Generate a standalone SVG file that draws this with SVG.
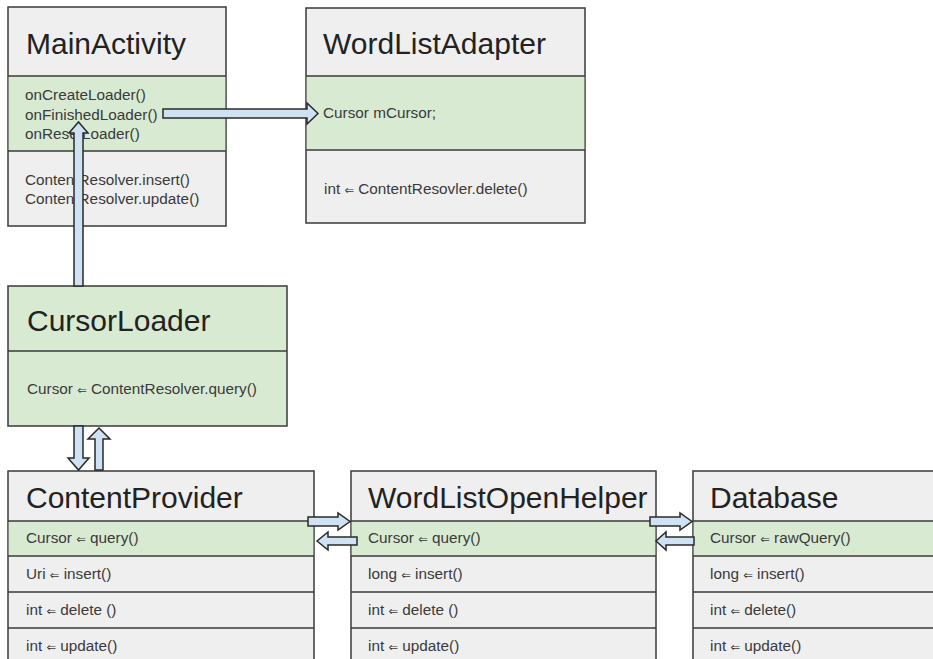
<svg xmlns="http://www.w3.org/2000/svg" width="933" height="659" viewBox="0 0 933 659">
<style>
.box{stroke:#3a3a3a;stroke-width:1.5}
.gray{fill:#efefef}
.green{fill:#d9ead3}
.sep{stroke:#3a3a3a;stroke-width:1.5;fill:none}
.title{font-family:"Liberation Sans",Arial,sans-serif;font-size:30px;fill:#222}
.txt{font-family:"Liberation Sans",Arial,"DejaVu Sans",sans-serif;font-size:15.3px;fill:#3a3a3a}
.ar{font-family:"DejaVu Sans",sans-serif;font-size:11.5px}
.arrow{fill:#cfe2f3;stroke:#2a2a2a;stroke-width:1.5;stroke-linejoin:miter}
</style>
<rect width="933" height="659" fill="#ffffff"/>

<g id="MainActivity">
  <rect class="box gray" x="8" y="7" width="218" height="219"/>
  <rect class="green" x="8.75" y="76" width="216.5" height="75"/>
  <line class="sep" x1="8" y1="76" x2="226" y2="76"/>
  <line class="sep" x1="8" y1="151" x2="226" y2="151"/>
  <text class="title" x="26" y="54">MainActivity</text>
  <text class="txt" x="25" y="100">onCreateLoader()</text>
  <text class="txt" x="25" y="119.5">onFinishedLoader()</text>
  <text class="txt" x="25" y="139">onResetLoader()</text>
  <text class="txt" x="25" y="185">ContentResolver.insert()</text>
  <text class="txt" x="25" y="204">ContentResolver.update()</text>
</g>

<g id="WordListAdapter">
  <rect class="box gray" x="306" y="8" width="279" height="215"/>
  <rect class="green" x="306.75" y="76" width="277.5" height="74"/>
  <line class="sep" x1="306" y1="76" x2="585" y2="76"/>
  <line class="sep" x1="306" y1="150" x2="585" y2="150"/>
  <text class="title" x="323" y="54">WordListAdapter</text>
  <text class="txt" x="323" y="118">Cursor mCursor;</text>
  <text class="txt" x="324" y="194">int <tspan class="ar">⇐</tspan> ContentResovler.delete()</text>
</g>

<g id="CursorLoader">
  <rect class="box green" x="8" y="286" width="279" height="140"/>
  <line class="sep" x1="8" y1="351" x2="287" y2="351"/>
  <text class="title" x="27" y="331">CursorLoader</text>
  <text class="txt" x="27" y="394">Cursor <tspan class="ar">⇐</tspan> ContentResolver.query()</text>
</g>

<g id="ContentProvider">
  <rect class="box gray" x="8" y="471" width="306" height="200"/>
  <rect class="green" x="8.75" y="521" width="304.5" height="35"/>
  <line class="sep" x1="8" y1="521" x2="314" y2="521"/>
  <line class="sep" x1="8" y1="556" x2="314" y2="556"/>
  <line class="sep" x1="8" y1="592" x2="314" y2="592"/>
  <line class="sep" x1="8" y1="628" x2="314" y2="628"/>
  <text class="title" x="26" y="508">ContentProvider</text>
  <text class="txt" x="26" y="543">Cursor <tspan class="ar">⇐</tspan> query()</text>
  <text class="txt" x="26" y="579">Uri <tspan class="ar">⇐</tspan> insert()</text>
  <text class="txt" x="26" y="615">int <tspan class="ar">⇐</tspan> delete ()</text>
  <text class="txt" x="26" y="651">int <tspan class="ar">⇐</tspan> update()</text>
</g>

<g id="WordListOpenHelper">
  <rect class="box gray" x="351" y="471" width="305" height="200"/>
  <rect class="green" x="351.75" y="521" width="303.5" height="35"/>
  <line class="sep" x1="351" y1="521" x2="656" y2="521"/>
  <line class="sep" x1="351" y1="556" x2="656" y2="556"/>
  <line class="sep" x1="351" y1="592" x2="656" y2="592"/>
  <line class="sep" x1="351" y1="628" x2="656" y2="628"/>
  <text class="title" x="368" y="508">WordListOpenHelper</text>
  <text class="txt" x="368" y="543">Cursor <tspan class="ar">⇐</tspan> query()</text>
  <text class="txt" x="368" y="579">long <tspan class="ar">⇐</tspan> insert()</text>
  <text class="txt" x="368" y="615">int <tspan class="ar">⇐</tspan> delete ()</text>
  <text class="txt" x="368" y="651">int <tspan class="ar">⇐</tspan> update()</text>
</g>

<g id="Database">
  <rect class="box gray" x="693" y="471" width="260" height="200"/>
  <rect class="green" x="693.75" y="521" width="260" height="35"/>
  <line class="sep" x1="693" y1="521" x2="953" y2="521"/>
  <line class="sep" x1="693" y1="556" x2="953" y2="556"/>
  <line class="sep" x1="693" y1="592" x2="953" y2="592"/>
  <line class="sep" x1="693" y1="628" x2="953" y2="628"/>
  <text class="title" x="710" y="508">Database</text>
  <text class="txt" x="710" y="543">Cursor <tspan class="ar">⇐</tspan> rawQuery()</text>
  <text class="txt" x="710" y="579">long <tspan class="ar">⇐</tspan> insert()</text>
  <text class="txt" x="710" y="615">int <tspan class="ar">⇐</tspan> delete()</text>
  <text class="txt" x="710" y="651">int <tspan class="ar">⇐</tspan> update()</text>
</g>

<g id="connectors">
  <!-- MainActivity -> WordListAdapter -->
  <path class="arrow" d="M163,109 H307 V103 L318,113.5 L307,124 V118 H163 Z"/>
  <!-- CursorLoader -> MainActivity (up) -->
  <path class="arrow" d="M74,286 V133 H69 L78.5,122 L88,133 H83 V286 Z"/>
  <!-- CursorLoader -> ContentProvider (down) -->
  <path class="arrow" d="M74,426 V458 H68 L78.5,470 L89,458 H83 V426 Z"/>
  <!-- ContentProvider -> CursorLoader (up) -->
  <path class="arrow" d="M95,470 V439 H88 L99,428 L110,439 H103 V470 Z"/>
  <!-- ContentProvider -> WordListOpenHelper -->
  <path class="arrow" d="M308,517 H338 V513 L350,521.5 L338,530 V526 H308 Z"/>
  <!-- WordListOpenHelper -> ContentProvider -->
  <path class="arrow" d="M357,537 H328 V532 L317,541 L328,550 V545 H357 Z"/>
  <!-- WordListOpenHelper -> Database -->
  <path class="arrow" d="M650,517 H680 V513 L692,521.5 L680,530 V526 H650 Z"/>
  <!-- Database -> WordListOpenHelper -->
  <path class="arrow" d="M694,537 H666 V532 L656,541 L666,550 V545 H694 Z"/>
</g>
</svg>
